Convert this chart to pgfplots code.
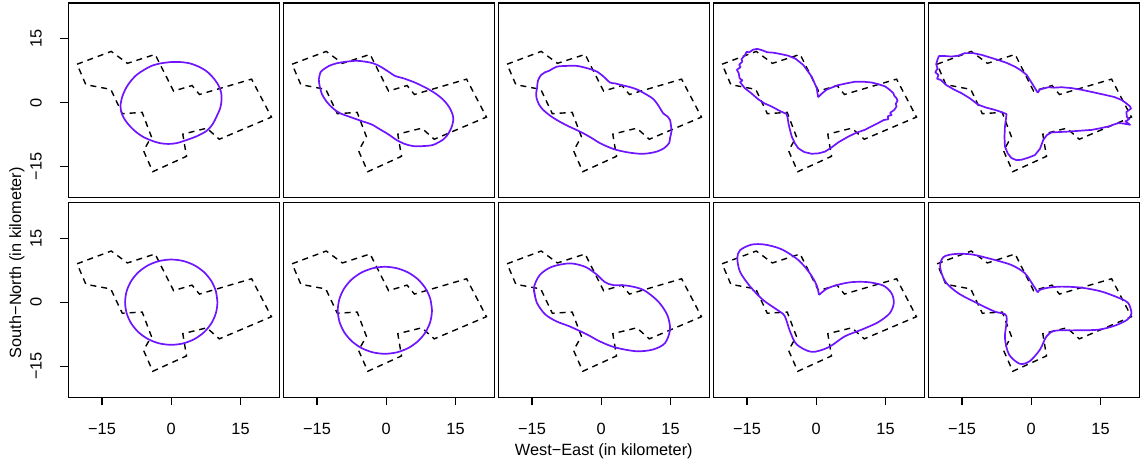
\documentclass[border=0pt]{standalone}
\usepackage{fontspec}
\setmainfont{Liberation Sans}
\usepackage{pgfplots}
\pgfplotsset{compat=1.18}
\usepackage{pgfplotstable}

\definecolor{fitcol}{RGB}{110,20,255}

% study region boundary (km)
\pgfplotstableread{
x y
-20.4 9.0
-13.0 12.0
-9.5 9.2
-3.5 11.3
0.5 2.7
4.5 4.0
6.1 1.9
17.4 5.5
21.7 -3.4
10.4 -8.6
7.7 -6.0
2.5 -7.4
3.3 -12.6
-4.0 -16.2
-6.0 -11.3
-4.3 -8.0
-6.3 -2.3
-10.6 -2.6
-13.1 3.1
-18.5 4.2
-20.4 9.0
}\regiontab

\pgfplotsset{
  panel/.style={
    scale only axis, width=211pt, height=194.7pt,
    xmin=-22.3, xmax=23.4, ymin=-22.3, ymax=23.35,
    axis line style={line width=1.2pt},
    xtick=\empty, ytick=\empty, anchor=south west,
    tick style={black, line width=1.2pt},
    major tick length=8pt, tick align=outside,
    tick label style={font=\fontsize{16.3}{19}\selectfont},
  },
  xlab/.style={xtick={-15,0,15}, xticklabels={−15,0,15}, xtick pos=bottom,
    xticklabel shift=14pt},
  ylab/.style={ytick={-15,0,15}, yticklabels={−15,0,15}, ytick pos=left,
    yticklabel style={rotate=90, anchor=south}, yticklabel shift=15pt},
  region/.style={black, line width=1.4pt, dash pattern=on 6pt off 5pt, line join=miter},
  fit/.style={fitcol, line width=1.7pt, line join=round},
}

\begin{document}
\begin{tikzpicture}
\useasboundingbox (0pt,0pt) rectangle (1144pt,463pt);

% ---------- top row ----------
\begin{axis}[panel, ylab, at={(68.3pt,265.3pt)}]
\addplot[region] table {\regiontab};
\addplot[fit, smooth, tension=0.5] coordinates {
(-0.1,9.5) (-2.3,9.2) (-4.3,8.6) (-6.0,7.6) (-7.5,6.5) (-8.8,5.0) (-9.8,3.4) (-10.6,1.4)
(-11.0,-0.8) (-10.7,-2.6) (-10.0,-4.1) (-8.8,-5.7) (-7.5,-7.0) (-6.0,-8.1) (-4.3,-8.9)
(-2.5,-9.5) (-0.65,-9.7) (1.2,-9.5) (3.0,-8.9) (5.5,-7.9) (7.7,-6.6) (9.0,-5.0) (9.8,-3.3)
(10.6,-1.3) (10.9,0.6) (10.8,2.4) (10.2,4.1) (9.1,5.8) (7.7,7.3) (6.0,8.4) (4.0,9.2) (2.0,9.5) (-0.1,9.5)};
\end{axis}

\begin{axis}[panel, at={(283.3pt,265.3pt)}]
\addplot[region] table {\regiontab};
\addplot[fit, smooth, tension=0.5] coordinates {
(-14.4,3.75) (-14.6,5.5) (-14.2,7.2) (-13.7,7.7) (-12.4,8.6) (-10.8,9.2) (-8.6,9.6) (-6.4,9.8)
(-4.6,9.6) (-2.8,9.2) (-1.2,8.4) (0.4,7.3) (2.0,6.2) (3.7,5.7) (6.2,4.7) (8.7,3.4)
(10.7,2.1) (12.4,0.6) (13.6,-1.0) (14.4,-2.9) (14.5,-4.2) (14.2,-5.6) (13.5,-7.2) (12.4,-8.6)
(10.2,-9.9) (8.0,-10.2) (5.85,-10.2) (4.0,-9.7) (2.2,-8.75) (0.4,-7.4) (-1.4,-6.25)
(-3.2,-5.1) (-5.0,-4.45) (-7.5,-3.5) (-10.0,-2.5) (-11.6,-1.3) (-12.9,0.2) (-13.9,1.9) (-14.4,3.75)};
\end{axis}

\begin{axis}[panel, at={(498.3pt,265.3pt)}]
\addplot[region] table {\regiontab};
\addplot[fit, smooth, tension=0.5] coordinates {
(-13.9,3.4) (-13.7,5.2) (-13.0,6.5) (-12.2,7.1) (-11.2,7.5) (-9.7,8.4) (-7.5,8.6) (-5.3,8.6)
(-3.2,8.1) (-1.0,7.3) (0.6,6.0) (1.9,4.7) (3.0,4.5) (4.4,4.1) (6.0,3.7) (7.7,3.1)
(9.6,2.0) (11.3,0.8) (12.5,-0.9) (13.4,-2.5) (14.4,-3.3) (14.9,-4.1) (15.1,-5.4) (15.2,-6.8)
(14.9,-8.3) (14.7,-9.5) (13.6,-10.7) (12.0,-11.5) (10.2,-11.9) (8.4,-12.0) (5.9,-11.7)
(3.3,-11.1) (1.5,-10.4) (-0.3,-9.5) (-2.4,-8.1) (-4.6,-6.8) (-6.8,-5.7) (-8.96,-4.5)
(-10.9,-3.2) (-12.6,-1.7) (-13.5,-0.4) (-14.0,1.0) (-14.1,2.2) (-13.9,3.4)};
\end{axis}

\begin{axis}[panel, at={(713.3pt,265.3pt)}]
\addplot[region] table {\regiontab};
\addplot[fit] coordinates {
(0.4,1.25) (0.1,3.4) (-1.0,6.1) (-2.0,7.6) (-2.8,8.8) (-4.5,10.3) (-6.1,11.0) (-7.8,11.4)
(-9.3,11.7) (-10.6,11.8) (-11.8,12.3) (-12.8,12.6) (-13.7,12.4) (-14.5,11.8) (-15.1,11.9)
(-15.5,11.0) (-16.2,10.2) (-16.0,9.6) (-16.7,8.9) (-16.4,8.3) (-17.2,7.7) (-16.8,6.9)
(-16.6,5.7) (-16.0,5.2) (-16.5,4.8) (-15.5,3.4) (-14.2,2.3) (-12.6,0.8) (-11.2,-0.2)
(-9.7,-0.9) (-8.0,-1.9) (-6.4,-2.7) (-6.2,-3.6) (-6.0,-5.0) (-5.6,-6.8) (-5.3,-8.0)
(-4.6,-9.6) (-3.9,-10.7) (-2.6,-11.6) (-1.0,-12.0) (0.5,-11.9) (1.9,-11.5) (3.2,-10.6)
(4.8,-9.3) (6.9,-8.0) (8.6,-7.1) (10.5,-6.4) (12.1,-5.5) (13.4,-4.8) (14.6,-4.1)
(15.6,-3.9) (15.5,-3.2) (16.3,-2.9) (16.0,-2.4) (16.9,-1.7) (17.4,-0.9) (17.2,-0.3)
(17.6,0.4) (17.4,1.0) (16.9,1.6) (16.7,2.2) (15.9,3.0) (14.9,3.8) (13.5,4.3) (12.0,4.7)
(10.2,4.9) (8.4,4.9) (6.5,4.5) (4.8,4.1) (3.3,3.5) (2.2,3.0) (1.2,2.1) (0.4,1.25)};
\end{axis}

\begin{axis}[panel, at={(928.3pt,265.3pt)}]
\addplot[region] table {\regiontab};
\addplot[fit] coordinates {
(1.4,2.3) (0.4,4.1) (-1.0,6.5) (-2.3,7.6) (-3.5,8.4) (-5.3,9.3) (-7.2,10.0) (-9.0,10.6)
(-10.8,11.2) (-12.6,11.6) (-14.4,11.6) (-15.8,11.0) (-17.3,10.8) (-18.5,10.9) (-20.0,10.9)
(-20.3,10.1) (-20.6,9.0) (-20.3,8.0) (-20.8,7.1) (-20.1,6.5) (-20.4,5.6) (-19.6,5.3)
(-18.4,4.1) (-16.8,3.1) (-15.1,2.2) (-13.3,1.0) (-11.5,-0.5) (-9.7,-1.2) (-7.9,-1.7)
(-6.5,-2.2) (-5.35,-2.7) (-5.5,-4.0) (-5.7,-5.6) (-5.8,-8.0) (-5.7,-10.3) (-5.1,-11.9)
(-4.3,-13.0) (-3.2,-13.5) (-2.1,-13.4) (-0.6,-12.9) (0.8,-12.3) (1.9,-10.8) (2.6,-8.75)
(3.4,-7.6) (4.4,-7.0) (6.2,-6.9) (8.0,-6.8) (10.5,-6.6) (13.1,-6.4) (15.0,-6.0) (16.7,-5.6)
(18.0,-5.1) (18.9,-4.8) (19.9,-4.9) (21.4,-5.2) (20.4,-4.4) (21.2,-3.9) (20.7,-3.3)
(20.6,-2.2) (21.6,-1.4) (21.4,-0.9) (20.5,-0.1) (19.6,0.6) (18.0,1.3) (16.0,1.8) (13.5,2.4)
(10.9,3.0) (8.7,3.4) (6.6,3.6) (5.0,3.5) (3.7,3.6) (2.7,3.3) (1.9,3.1) (1.4,2.3)};
\end{axis}

% ---------- bottom row ----------
\begin{axis}[panel, xlab, ylab, at={(68.3pt,65.7pt)}]
\addplot[region] table {\regiontab};
\addplot[fit, smooth] coordinates {
(10,0) (9.66,2.59) (8.66,5) (7.07,7.07) (5,8.66) (2.59,9.66) (0,10) (-2.59,9.66)
(-5,8.66) (-7.07,7.07) (-8.66,5) (-9.66,2.59) (-10,0) (-9.66,-2.59) (-8.66,-5)
(-7.07,-7.07) (-5,-8.66) (-2.59,-9.66) (0,-10) (2.59,-9.66) (5,-8.66) (7.07,-7.07)
(8.66,-5) (9.66,-2.59) (10,0) (9.66,2.59)};
\end{axis}

\begin{axis}[panel, xlab, at={(283.3pt,65.7pt)}]
\addplot[region] table {\regiontab};
\addplot[fit, smooth] coordinates {
(9.9,-1.9) (9.55,0.74) (8.53,3.2) (6.91,5.31) (4.8,6.93) (2.34,7.95) (-0.3,8.3)
(-2.94,7.95) (-5.4,6.93) (-7.51,5.31) (-9.13,3.2) (-10.15,0.74) (-10.5,-1.9)
(-10.15,-4.54) (-9.13,-7.0) (-7.51,-9.11) (-5.4,-10.73) (-2.94,-11.75) (-0.3,-12.1)
(2.34,-11.75) (4.8,-10.73) (6.91,-9.11) (8.53,-7.0) (9.55,-4.54) (9.9,-1.9) (9.55,0.74)};
\end{axis}

\begin{axis}[panel, xlab, at={(498.3pt,65.7pt)}]
\addplot[region] table {\regiontab};
\addplot[fit, smooth] coordinates {
(-14.0,0) (-14.6,3.3) (-13.3,6.4) (-10.7,8.3) (-6.8,9.1) (-3.5,8.3) (-1.0,6.5)
(0.8,4.7) (2.6,4.0) (5.5,3.9) (9.1,2.9) (12.3,0.2) (14.3,-3.0) (14.9,-6.4) (13.8,-9.6)
(11.2,-11.1) (7.6,-11.5) (3.0,-10.6) (-0.3,-9.2) (-3.2,-7.5) (-6.8,-5.7) (-9.7,-4.5)
(-12.2,-2.8) (-14.0,0) (-14.6,3.3)};
\end{axis}

\begin{axis}[panel, xlab, at={(713.3pt,65.7pt)}]
\addplot[region] table {\regiontab};
\addplot[fit, smooth] coordinates {
(0.6,1.7) (0.07,4.0) (-1.4,6.8) (-3.9,9.9) (-7.5,12.4) (-11.1,13.5) (-14.0,13.5)
(-16.5,12.2) (-17.1,10.3) (-16.5,7.1) (-14.3,3.65) (-11.5,0.5) (-7.9,-2.2) (-6.8,-3.3)
(-5.7,-6.8) (-4.25,-9.9) (-1.0,-11.65) (2.6,-10.6) (6.2,-8.0) (9.8,-6.45) (13.4,-4.7)
(15.9,-2.6) (16.8,-0.2) (16.3,2.1) (14.5,3.9) (11.2,4.7) (7.6,4.7) (4.4,4.0) (2.2,3.1)
(0.6,1.7)};
\end{axis}

\begin{axis}[panel, xlab, at={(928.3pt,65.7pt)}]
\addplot[region] table {\regiontab};
\addplot[fit, smooth] coordinates {
(1.4,2.3) (0.4,4.0) (-1.4,6.8) (-4.25,8.7) (-8.6,10.1) (-12.9,11.2) (-16.5,11.3)
(-19.0,10.6) (-19.75,8.3) (-18.6,4.8) (-15.8,2.1) (-11.8,-0.2) (-7.9,-2.2) (-5.7,-2.8)
(-5.3,-4.1) (-5.7,-8.4) (-4.8,-12.3) (-2.45,-14.45) (-0.3,-13.8) (1.9,-11.1) (3.3,-8.0)
(5.1,-6.7) (9.4,-6.6) (14.5,-6.45) (18.1,-5.5) (20.8,-4.1) (21.7,-2.6) (21.0,-0.2)
(19.2,0.9) (15.2,2.5) (10.9,3.4) (6.6,3.65) (3.7,3.4) (1.9,2.9) (1.4,2.3)};
\end{axis}

% axis titles
\node[anchor=base, font=\fontsize{16.3}{19}\selectfont] at (603.8pt,7pt) {West−East (in kilometer)};
\node[anchor=base, rotate=90, font=\fontsize{16.3}{19}\selectfont] at (21pt,200.3pt) {South−North (in kilometer)};
\end{tikzpicture}
\end{document}
